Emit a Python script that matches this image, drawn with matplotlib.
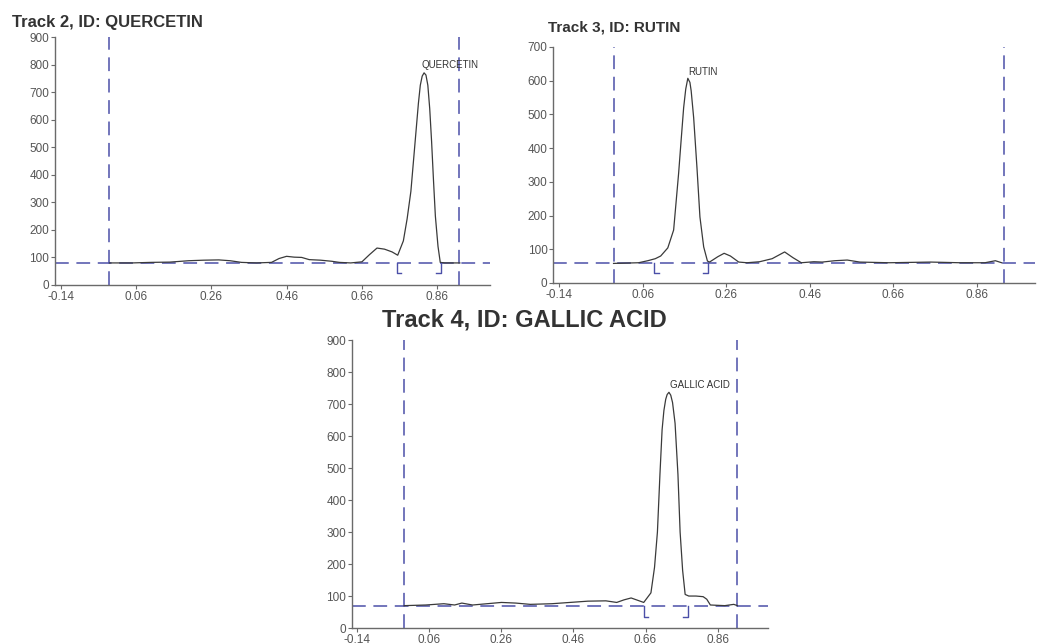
import matplotlib
matplotlib.use("Agg")
import matplotlib.pyplot as plt

plt.rcParams["font.family"] = ["Liberation Sans", "DejaVu Sans"]

# Rf positions and detector response
QUER_X = [-0.01, 0.05, 0.10, 0.15, 0.20, 0.24, 0.28, 0.31, 0.34, 0.38, 0.42, 0.44,
          0.46, 0.48, 0.50, 0.52, 0.55, 0.58, 0.60, 0.63, 0.66, 0.68, 0.70, 0.72,
          0.74, 0.755, 0.77, 0.78, 0.79, 0.80, 0.805, 0.81, 0.815, 0.82, 0.825,
          0.83, 0.835, 0.84, 0.845, 0.85, 0.855, 0.862, 0.868, 0.88, 0.92]
QUER_Y = [80, 80, 82, 83, 88, 90, 91, 88, 82, 80, 82, 96,
          104, 101, 100, 92, 90, 86, 82, 80, 84, 110, 134, 130,
          120, 108, 160, 240, 340, 500, 580, 660, 725, 758, 770,
          762, 725, 640, 520, 380, 250, 140, 82, 80, 80]

RUTIN_X = [-0.01, 0.05, 0.072, 0.09, 0.103, 0.12, 0.134, 0.146, 0.152, 0.158,
           0.163, 0.168, 0.173, 0.176, 0.182, 0.19, 0.197, 0.206, 0.215, 0.22,
           0.24, 0.255, 0.27, 0.29, 0.31, 0.34, 0.37, 0.40, 0.42, 0.44, 0.47,
           0.49, 0.52, 0.55, 0.58, 0.65, 0.75, 0.82, 0.88, 0.905, 0.92]
RUTIN_Y = [58, 60, 66, 72, 80, 104, 157, 326, 424, 520,
           575, 607, 595, 570, 490, 340, 196, 107, 65, 62,
           78, 88, 80, 62, 60, 63, 72, 92, 75, 60, 63,
           62, 66, 68, 62, 60, 62, 60, 60, 66, 60]

GALLIC_X = [-0.01, 0.05, 0.10, 0.13, 0.15, 0.18, 0.22, 0.26, 0.30, 0.34, 0.40,
            0.45, 0.50, 0.55, 0.58, 0.60, 0.62, 0.635, 0.655, 0.675, 0.685, 0.693,
            0.70, 0.706, 0.711, 0.716, 0.72, 0.725, 0.73, 0.735, 0.742, 0.75, 0.756,
            0.763, 0.77, 0.78, 0.80, 0.82, 0.83, 0.84, 0.88, 0.905, 0.915]
GALLIC_Y = [70, 72, 76, 72, 78, 72, 76, 80, 78, 74, 76,
            80, 84, 85, 80, 88, 94, 88, 80, 110, 190, 300,
            480, 620, 680, 715, 730, 737, 728, 705, 640, 480, 300,
            180, 105, 100, 100, 98, 90, 72, 70, 74, 70]

TICK_VALUES = [-0.14, 0.06, 0.26, 0.46, 0.66, 0.86]
TICK_LABELS = ["-0.14", "0.06", "0.26", "0.46", "0.66", "0.86"]

# baseline, start/end lines, integration window
QUER_BASE, QUER_FRONT, QUER_START = 80, 0.917, -0.012
QUER_WIN = (0.752, 0.870)
RUTIN_BASE, RUTIN_FRONT, RUTIN_START = 58, 0.925, -0.008
RUTIN_WIN = (0.086, 0.216)
GALLIC_BASE, GALLIC_FRONT, GALLIC_START = 69, 0.915, -0.011
GALLIC_WIN = (0.655, 0.777)

DASH_COLOR = "#4b4fa8"
LINE_COLOR = "#3a3a3a"
AXIS_COLOR = "#6a6a6a"
TEXT_COLOR = "#555555"


def draw_panel(ax, xs, ys, ymax, base, start, front, win, bracket_low, label, label_xy):
    ax.plot(xs, ys, color=LINE_COLOR, linewidth=0.9, zorder=3)
    ax.axhline(base, color=DASH_COLOR, linewidth=1.1, dashes=(9, 5), zorder=2)
    for x in (start, front):
        ax.axvline(x, color=DASH_COLOR, linewidth=1.1, dashes=(9, 5), zorder=2)

    # integration brackets
    span = 0.012
    lo, hi = win
    ax.plot([lo, lo, lo + span], [base, bracket_low, bracket_low], color=DASH_COLOR, linewidth=1.0, zorder=4)
    ax.plot([hi, hi, hi - span], [base, bracket_low, bracket_low], color=DASH_COLOR, linewidth=1.0, zorder=4)

    ax.text(label_xy[0], label_xy[1], label, fontsize=7, color="#333333", ha="left", va="center")

    ax.set_xlim(-0.155, 1.0)
    ax.set_ylim(0, ymax)
    ax.set_xticks(TICK_VALUES)
    ax.set_xticklabels(TICK_LABELS)
    ax.set_yticks(range(0, ymax + 1, 100))
    ax.tick_params(colors=AXIS_COLOR, labelcolor=TEXT_COLOR, labelsize=8.5, length=3, width=0.8, pad=1)
    for side in ("top", "right"):
        ax.spines[side].set_visible(False)
    for side in ("left", "bottom"):
        ax.spines[side].set_color(AXIS_COLOR)
        ax.spines[side].set_linewidth(1.0)


fig = plt.figure(figsize=(10.37, 6.44), dpi=100)

ax1 = fig.add_axes([0.053, 0.5575, 0.4195, 0.385])
draw_panel(ax1, QUER_X, QUER_Y, 900, QUER_BASE, QUER_START, QUER_FRONT, QUER_WIN, 43,
           "QUERCETIN", (0.817, 798))

ax2 = fig.add_axes([0.5333, 0.5606, 0.4648, 0.3665])
draw_panel(ax2, RUTIN_X, RUTIN_Y, 700, RUTIN_BASE, RUTIN_START, RUTIN_FRONT, RUTIN_WIN, 30,
           "RUTIN", (0.17, 626))

ax3 = fig.add_axes([0.3394, 0.0248, 0.4012, 0.447])
draw_panel(ax3, GALLIC_X, GALLIC_Y, 900, GALLIC_BASE, GALLIC_START, GALLIC_FRONT, GALLIC_WIN, 34,
           "GALLIC ACID", (0.728, 759))

fig.text(12 / 1037, 1 - 22 / 644, "Track 2, ID: QUERCETIN", fontsize=12, fontweight="bold",
         color="#333333", ha="left", va="center")
fig.text(548 / 1037, 1 - 27 / 644, "Track 3, ID: RUTIN", fontsize=11, fontweight="bold",
         color="#333333", ha="left", va="center")
fig.text(524 / 1037, 1 - 320 / 644, "Track 4, ID: GALLIC ACID", fontsize=17, fontweight="bold",
         color="#333333", ha="center", va="center")

fig.savefig("out.png", dpi=100)
